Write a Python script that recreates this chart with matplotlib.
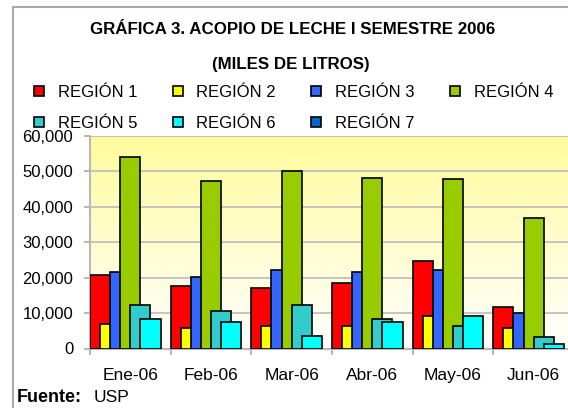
import numpy as np
import matplotlib
matplotlib.use('Agg')
import matplotlib.pyplot as plt
from matplotlib.colors import LinearSegmentedColormap
from matplotlib.lines import Line2D
from matplotlib.ticker import StrMethodFormatter

plt.rcParams['font.family'] = ['Liberation Sans', 'DejaVu Sans']

# milk collection, thousands of litres, first half of 2006
months = ['Ene-06', 'Feb-06', 'Mar-06', 'Abr-06', 'May-06', 'Jun-06']
regions = ['REGIÓN 1', 'REGIÓN 2', 'REGIÓN 3', 'REGIÓN 4',
           'REGIÓN 5', 'REGIÓN 6', 'REGIÓN 7']
region_1 = [20700, 17700, 17200, 18600, 24600, 11800]
region_2 = [6900, 5800, 6300, 6300, 9300, 5800]
region_3 = [21600, 20200, 22100, 21600, 22100, 9900]
region_4 = [54100, 47300, 50200, 48200, 47800, 36900]
region_5 = [12400, 10700, 12400, 8300, 6400, 3300]
region_6 = [8300, 7400, 3500, 7400, 9300, 1400]
region_7 = [np.nan] * 6   # no data shown for region 7
colors = ['#FF0000', '#FFFF00', '#3366FF', '#99CC00',
          '#33CCCC', '#00FFFF', '#0066CC']

series = [region_1, region_2, region_3, region_4, region_5, region_6, region_7]

fig = plt.figure(figsize=(5.68, 4.08), dpi=100)
W, H = 568.0, 408.0
ax = fig.add_axes([90 / W, 1 - 348.5 / H, 484 / W, (348.5 - 136) / H])

# yellow to white gradient in the plot area
grad = np.linspace(0, 1, 256).reshape(-1, 1)
cmap = LinearSegmentedColormap.from_list('bg', ['#FFFFFF', '#FFFB9C'])
ax.imshow(grad, extent=[0, 6, 0, 60000], origin='lower', aspect='auto',
          cmap=cmap, zorder=0)

x = np.arange(len(months))
bw = 0.25
handles = []
for j, (vals, c, lab) in enumerate(zip(series, colors, regions)):
    b = ax.bar(x + j * bw / 2, vals, width=bw, align='edge', color=c,
               edgecolor='black', linewidth=1.2, label=lab, zorder=3)
    handles.append(b)

ax.set_xlim(0, 6)
ax.set_ylim(0, 60000)
ax.set_yticks(np.arange(0, 60001, 10000))
ax.yaxis.set_major_formatter(StrMethodFormatter('{x:,.0f}'))
ax.grid(axis='y', color='#C0C0C0', linewidth=1.3, zorder=1)
ax.set_axisbelow(True)

ax.set_xticks(np.arange(0, 7))
ax.set_xticklabels([])
ax.set_xticks(x + 0.5, minor=True)
ax.set_xticklabels(months, minor=True, fontsize=12.5)
ax.tick_params(axis='x', which='minor', length=0, pad=14)
ax.tick_params(axis='x', which='major', length=4, color='#B0B0B0', width=1.3)
ax.tick_params(axis='y', length=4, color='#B0B0B0', width=1.3, labelsize=12, pad=8)

for s in ['top', 'right']:
    ax.spines[s].set_visible(False)
for s in ['left', 'bottom']:
    ax.spines[s].set_color('#B8B8B8')
    ax.spines[s].set_linewidth(1.5)

# titles
fig.text(293 / W, 1 - 30 / H, 'GRÁFICA 3. ACOPIO DE LECHE I SEMESTRE 2006',
         ha='center', va='center', fontsize=12.2, fontweight='bold')
fig.text(291 / W, 1 - 64 / H, '(MILES DE LITROS)',
         ha='center', va='center', fontsize=12.2, fontweight='bold')

# legend filled column-wise, so reorder to read row by row
order = [0, 4, 1, 5, 2, 6, 3]
fig.legend(handles=[handles[i] for i in order],
           labels=[regions[i] for i in order], ncol=4, frameon=False,
           loc='upper left', bbox_to_anchor=(34 / W, 1 - 85 / H),
           fontsize=12, handlelength=0.6, handleheight=0.6,
           handletextpad=0.84, columnspacing=2.1, labelspacing=0.95,
           borderpad=0, borderaxespad=0)

fig.text(17 / W, 1 - 402 / H, 'Fuente:', ha='left', va='baseline',
         fontsize=13, fontweight='bold')
fig.text(94 / W, 1 - 402 / H, 'USP', ha='left', va='baseline', fontsize=12.5)

# chart area border (right and bottom edges fall outside the picture)
fig.add_artist(Line2D([12.7 / W, 12.7 / W], [0, 1 - 7 / H],
                      transform=fig.transFigure, color='#AAAAAA', lw=1.5))
fig.add_artist(Line2D([12.7 / W, 1], [1 - 7 / H, 1 - 7 / H],
                      transform=fig.transFigure, color='#AAAAAA', lw=1.5))

fig.savefig('out.png', dpi=100)
